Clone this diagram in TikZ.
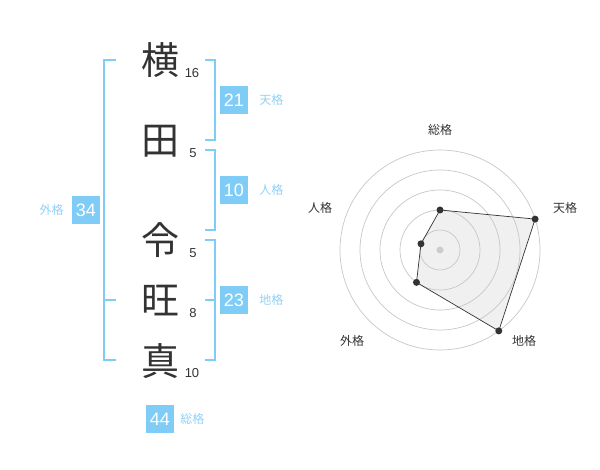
\documentclass[tikz,border=0pt]{standalone}
\usepackage{fontspec}
\setmainfont{Liberation Sans}
\newfontfamily\cjk{Noto Sans CJK JP}
\usepackage{tikz}
\usetikzlibrary{positioning}
\definecolor{kakublue}{HTML}{7FCCF7}
\definecolor{kakutext}{HTML}{8FD2F7}
\definecolor{inkgray}{HTML}{333333}

\begin{document}
\begin{tikzpicture}[x=1pt, y=-1pt,
      kanji/.style={font=\cjk\fontsize{38}{38}\selectfont, text=inkgray, inner sep=0},
      strokes/.style={font=\fontsize{13}{13}\selectfont, text=inkgray, inner sep=0},
      kaku/.style={fill=kakublue, text=white, minimum size=28pt, inner sep=0, font=\fontsize{18}{18}\selectfont},
      kakulabel/.style={text=kakutext, font=\cjk\fontsize{12}{12}\selectfont, inner sep=0},
      bracket/.style={draw=kakublue, line width=1.6pt},
      axislabel/.style={text=inkgray, font=\cjk\fontsize{12}{12}\selectfont, inner sep=0},
      ring/.style={draw=black!22, line width=0.7pt},
      dot/.style={circle, fill=inkgray, inner sep=0, minimum size=7pt}
    ]
    \useasboundingbox (0,0) rectangle (600,470);

    % Name
    \node[kanji] (yoko) at (160, 60) {横};
    \node[kanji] (ta) at (160, 141) {田};
    \node[kanji] (rei) at (160, 240) {令};
    \node[kanji] (ou) at (160, 301) {旺};
    \node[kanji] (ma) at (160, 361) {真};

    % Strokes
    \node[strokes] (yokon) at (192, 73) {16};
    \node[strokes] (tan) at (193, 153) {5};
    \node[strokes] (rein) at (193, 253) {5};
    \node[strokes] (oun) at (193, 313) {8};
    \node[strokes] (man) at (192, 373) {10};

    % Brackets
    \draw[bracket] (205, 60) -- (215, 60) -- (215, 140) -- (205, 140);
    \draw[bracket] (205, 150) -- (215, 150) -- (215, 230) -- (205, 230);
    \draw[bracket] (205, 240) -- (215, 240) -- (215, 360) -- (205, 360);
    \draw[bracket] (205, 300) -- (215, 300);
    \draw[bracket] (116, 60) -- (104, 60) -- (104, 360) -- (116, 360);
    \draw[bracket] (104, 300) -- (116, 300);

    % Boxes
    \node[kaku] (ten) at (234, 100) {21};
    \node[kakulabel, right=11pt of ten] {天格};
    \node[kaku] (jin) at (234, 190) {10};
    \node[kakulabel, right=11pt of jin] {人格};
    \node[kaku] (chi) at (234, 300) {23};
    \node[kakulabel, right=11pt of chi] {地格};
    \node[kaku] (gai) at (86, 210) {34};
    \node[kakulabel, left=8pt of gai] {外格};
    \node[kaku] (sou) at (160, 419) {44};
    \node[kakulabel, right=6pt of sou] {総格};

    % Radar
    \begin{scope}[shift={(440, 250)}, y=1pt]
      \coordinate (psou) at (90:40);
      \coordinate (pten) at (18:100);
      \coordinate (pchi) at (-54:100);
      \coordinate (pgai) at (-126:40);
      \coordinate (pjin) at (162:20);
      \fill[black!6] (psou) -- (pten) -- (pchi) -- (pgai) -- (pjin) -- cycle;
      \foreach \r in {20, 40, 60, 80, 100}
        \draw[ring] (0, 0) circle (\r);
      \node[circle, fill=black!20, inner sep=0, minimum size=7pt] (mid) at (0, 0) {};
      \draw[inkgray, line width=0.7pt]
        (psou) -- (pten) -- (pchi) -- (pgai) -- (pjin) -- cycle;
      \foreach \p in {psou, pten, pchi, pgai, pjin}
        \node[dot] at (\p) {};
      \node[axislabel] at (0, 120) {総格};
      \node[axislabel] at (125, 42) {天格};
      \node[axislabel] at (-120, 42) {人格};
      \node[axislabel] at (-88, -91) {外格};
      \node[axislabel] at (84, -91) {地格};
    \end{scope}

\end{tikzpicture}
\end{document}
